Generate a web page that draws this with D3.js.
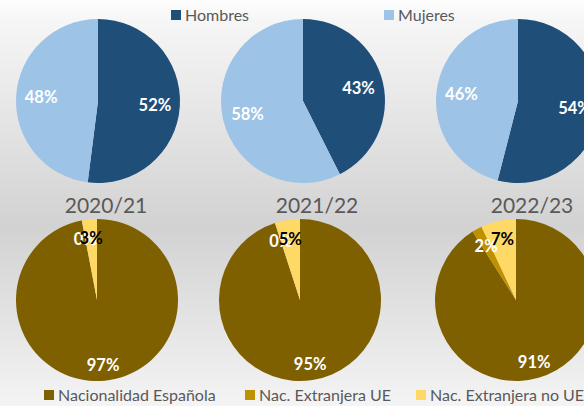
<!DOCTYPE html>
<html>
<head>
<meta charset="utf-8">
<script src="https://cdn.jsdelivr.net/npm/d3@7"></script>
<style>
  body { margin: 0; }
  text { font-family: Lato, "Open Sans", sans-serif; }
</style>
</head>
<body>
<svg id="chart" width="584" height="406"></svg>
<script>
var years = ["2020/21", "2021/22", "2022/23"];

// sexo
var sexNames = ["Hombres", "Mujeres"];
var hombres = [52, 43, 54];
var mujeres = [48, 58, 46];

// nacionalidad
var natNames = ["Nacionalidad Española", "Nac. Extranjera UE", "Nac. Extranjera no UE"];
var espanola = [97, 95, 91];
var extUE = [0, 0, 2];
var extNoUE = [3, 5, 7];

var svg = d3.select("#chart");

// fondo degradado
var grad = svg.append("defs").append("linearGradient")
  .attr("id", "bg").attr("x1", 0).attr("y1", 0).attr("x2", 0).attr("y2", 1);
grad.append("stop").attr("offset", "0%").attr("stop-color", "#fdfdfd");
grad.append("stop").attr("offset", "5%").attr("stop-color", "#f6f6f6");
grad.append("stop").attr("offset", "56%").attr("stop-color", "#d2d2d2");
grad.append("stop").attr("offset", "100%").attr("stop-color", "#f4f4f4");
svg.append("rect").attr("width", 584).attr("height", 406).attr("fill", "url(#bg)");

var sexColor = d3.scaleOrdinal().domain(sexNames).range(["#1f4e79", "#9dc3e6"]);
var natColor = d3.scaleOrdinal().domain(natNames).range(["#7f6000", "#bf9000", "#ffd966"]);
var natLabel = d3.scaleOrdinal().domain(natNames).range(["#ffffff", "#ffffff", "#000000"]);
var natLabelR = d3.scaleOrdinal().domain(natNames).range([65, 62, 62]);

var xTop = d3.scaleOrdinal().domain(years).range([98, 303, 518]);
var xBot = d3.scaleOrdinal().domain(years).range([97, 300, 516]);
var xTitle = d3.scaleOrdinal().domain(years).range([106, 317, 532]);

var pie = d3.pie().sort(null).value(function(d){ return d.value; });

function drawPie(cx, cy, r, labelR, rows, color, labelColor){
  var g = svg.append("g").attr("transform", "translate(" + cx + "," + cy + ")");
  var arc = d3.arc().innerRadius(0).outerRadius(r);
  var arcs = pie(rows);
  g.selectAll("path").data(arcs).enter().append("path")
    .attr("d", arc)
    .attr("fill", function(d){ return color(d.data.name); });
  g.selectAll("text").data(arcs).enter().append("text")
    .attr("transform", function(d){
      var lr = labelR(d.data.name);
      var labelArc = d3.arc().innerRadius(lr).outerRadius(lr);
      return "translate(" + labelArc.centroid(d) + ")";
    })
    .attr("text-anchor", "middle")
    .attr("dy", "0.36em")
    .attr("font-size", 16.5)
    .attr("font-weight", "bold")
    .attr("fill", function(d){ return labelColor(d.data.name); })
    .text(function(d){ return d.data.value + "%"; });
}

years.forEach(function(y, i){
  var top = [
    {name: sexNames[0], value: hombres[i]},
    {name: sexNames[1], value: mujeres[i]}
  ];
  drawPie(xTop(y), 101, 82, function(){ return 57; }, top, sexColor, function(){ return "#ffffff"; });

  var bot = [
    {name: natNames[0], value: espanola[i]},
    {name: natNames[1], value: extUE[i]},
    {name: natNames[2], value: extNoUE[i]}
  ];
  drawPie(xBot(y), 300, 81, natLabelR, bot, natColor, natLabel);

  svg.append("text")
    .attr("x", xTitle(y)).attr("y", 213)
    .attr("text-anchor", "middle")
    .attr("font-size", 21)
    .attr("fill", "#595959")
    .text(y);
});

// leyendas
function legend(names, color, xs, y, size, fs){
  names.forEach(function(n, i){
    svg.append("rect")
      .attr("x", xs[i]).attr("y", y - size - 1)
      .attr("width", size).attr("height", size)
      .attr("fill", color(n));
    svg.append("text")
      .attr("x", xs[i] + size + 4).attr("y", y)
      .attr("font-size", fs)
      .attr("fill", "#595959")
      .text(n);
  });
}
legend(sexNames, sexColor, [171, 384], 21, 10, 16);
legend(natNames, natColor, [44, 245, 416], 401, 10, 16);
</script>
</body>
</html>
